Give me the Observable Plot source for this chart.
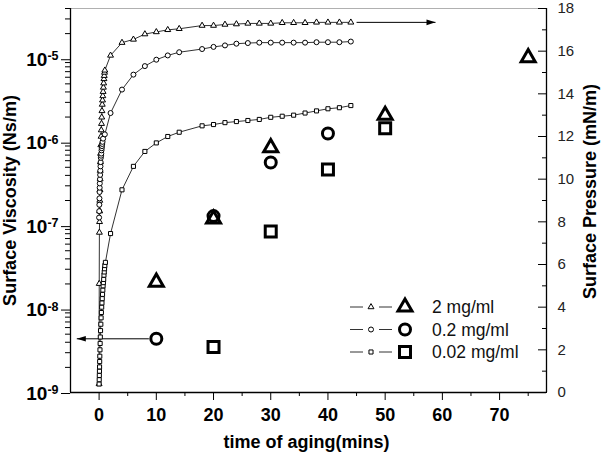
<!DOCTYPE html>
<html><head><meta charset="utf-8">
<script src="https://cdn.jsdelivr.net/npm/d3@7"></script>
<script src="https://cdn.jsdelivr.net/npm/@observablehq/plot@0.6"></script>
<style>
body{margin:0;background:#fff;font-family:"Liberation Sans",Arial,sans-serif;}
#chart{position:relative;width:601px;height:460px;background:#fff;}
#chart svg{position:absolute;left:0;top:0;}
</style></head><body><div id="chart"></div>
<script>
// ---------- data ----------
const concentrations = ["2 mg/ml", "0.2 mg/ml", "0.02 mg/ml"];
const symbolNames = ["triangle", "circle", "square"];

// surface viscosity (left, log axis), large markers
const viscTime2 = [10, 20, 30, 50, 75];
const visc2 = [2.1e-8, 1.2e-7, 8.6e-7, 2.1e-6, 1.03e-5];
const viscTime02 = [10, 20, 30, 40];
const visc02 = [4.4e-9, 1.3e-7, 5.7e-7, 1.27e-6];
const viscTime002 = [20, 30, 40, 50];
const visc002 = [3.5e-9, 8.5e-8, 4.7e-7, 1.47e-6];

// surface pressure (right axis), small markers + lines
const presTime2 = [0,0.02,0.05,0.08,0.1,0.12,0.15,0.18,0.2,0.23,0.26,0.3,0.34,0.38,0.42,0.46,0.5,0.55,0.6,0.65,0.7,0.75,0.8,0.85,0.9,0.95,1.0,
  2,4,6,8,10,12,14,18,20,22,24,26,28,30,32,34,36,38,40,42,44];
const pres2 = [0.4,5.1,7.5,8.0,8.5,9.0,9.5,10.0,10.4,10.8,11.2,11.6,12.0,12.3,12.6,12.9,13.2,13.5,13.7,13.9,14.1,14.3,14.5,14.7,14.85,15.0,15.1,
  15.8,16.4,16.55,16.8,16.9,17.0,17.05,17.2,17.2,17.25,17.27,17.3,17.3,17.3,17.33,17.33,17.33,17.35,17.35,17.35,17.35];
const presTime02 = [0,0.02,0.04,0.06,0.08,0.1,0.12,0.15,0.18,0.21,0.24,0.27,0.3,0.34,0.38,0.42,0.46,0.5,0.55,0.6,0.7,1.0,
  2,4,6,8,10,12,14,18,20,22,24,26,28,30,32,34,36,38,40,42,44];
const pres02 = [8.2,8.5,8.8,9.1,9.4,9.6,9.8,10.0,10.2,10.4,10.6,10.8,11.0,11.1,11.2,11.35,11.45,11.55,11.65,11.75,11.9,12.1,
  13.1,14.2,14.9,15.3,15.6,15.8,15.95,16.1,16.2,16.27,16.35,16.38,16.4,16.4,16.4,16.4,16.4,16.42,16.42,16.42,16.45];
const presTime002 = [0,0.02,0.04,0.06,0.08,0.1,0.12,0.15,0.18,0.21,0.25,0.3,0.35,0.4,0.45,0.5,0.55,0.6,0.65,0.7,0.75,0.8,0.85,0.9,0.95,1.0,1.1,
  2,4,6,8,10,12,14,18,20,22,24,26,28,30,32,34,36,38,40,42,44];
const pres002 = [0.4,0.6,0.8,1.0,1.2,1.45,1.7,2.0,2.3,2.6,2.9,3.2,3.5,3.75,4.0,4.2,4.4,4.6,4.8,5.0,5.15,5.3,5.5,5.65,5.8,5.95,6.1,
  7.45,9.5,10.6,11.3,11.7,12.0,12.2,12.5,12.56,12.65,12.7,12.75,12.8,12.9,12.95,13.0,13.1,13.2,13.3,13.35,13.45];

// axes
const xDomain = [-5, 78.2];
const xMajorTicks = [0, 10, 20, 30, 40, 50, 60, 70];
const xMinorTicks = [5, 15, 25, 35, 45, 55, 65, 75];
const viscDomain = [1e-9, 4e-5];
const viscMajorTicks = [1e-9, 1e-8, 1e-7, 1e-6, 1e-5];
const viscMinorTicks = [-9, -8, -7, -6, -5].flatMap(e => [2,3,4,5,6,7,8,9].map(m => +(m + "e" + e))).filter(v => v <= viscDomain[1]);
const presDomain = [0, 18];
const presMajorTicks = [0, 2, 4, 6, 8, 10, 12, 14, 16, 18];
const presMinorTicks = [1, 3, 5, 7, 9, 11, 13, 15, 17];
const xTitle = "time of aging(mins)";
const yLeftTitle = "Surface Viscosity (Ns/m)";
const yRightTitle = "Surface Pressure (mN/m)";

// annotation arrows
const presArrow = [{x1: 45, x2: 58.8, y: 17.35}];
const viscArrow = [{x1: 8.7, x2: -3.9, y: 4.4e-9}];

// ---------- build ----------
const zipRows = (ts, vs, c) => ts.slice(0, Math.min(ts.length, vs.length)).map((t, i) => ({t, v: vs[i], c}));
const viscRows = [zipRows(viscTime2, visc2, 0), zipRows(viscTime02, visc02, 1), zipRows(viscTime002, visc002, 2)];
const presRows = [zipRows(presTime2, pres2, 0), zipRows(presTime02, pres02, 1), zipRows(presTime002, pres002, 2)];

const W = 601, H = 460, mL = 70, mR = 55, mT = 8, mB = 68;
const FONT = "'Liberation Sans', Arial, sans-serif";
const bigR = [5.2, 5.5, 6.2];
const smallR = [2.2, 2.5, 2.3];

const headRight = {draw(ctx) { ctx.moveTo(0, 0); ctx.lineTo(-9, -2.8); ctx.lineTo(-9, 2.8); ctx.closePath(); }};
const headLeft = {draw(ctx) { ctx.moveTo(0, 0); ctx.lineTo(9, -2.8); ctx.lineTo(9, 2.8); ctx.closePath(); }};

const common = {width: W, height: H, marginLeft: mL, marginRight: mR, marginTop: mT, marginBottom: mB,
  style: {background: "transparent", fontFamily: FONT, color: "#000", overflow: "visible"}};

const plotA = Plot.plot({
  ...common,
  x: {domain: xDomain},
  y: {type: "log", domain: viscDomain},
  marks: [
    Plot.frame({stroke: "#b0b0b0"}),
    Plot.ruleX([xDomain[0]], {stroke: "#000", strokeWidth: 1.3}),
    Plot.ruleX([xDomain[1]], {stroke: "#000", strokeWidth: 1.3}),
    Plot.ruleY([viscDomain[0]], {stroke: "#000", strokeWidth: 1.3}),
    Plot.axisY({ticks: viscMinorTicks, anchor: "left", tickSize: 5, tickFormat: () => "", label: null}),
    Plot.axisY({ticks: viscMajorTicks, anchor: "left", tickSize: 9, tickPadding: 3, fontSize: 19, fontWeight: "bold",
      tickFormat: d => "10^" + Math.round(Math.log10(d)), label: null, dy: 1}),
    Plot.axisX({ticks: xMinorTicks, anchor: "bottom", tickSize: 4, tickFormat: () => "", label: null}),
    Plot.axisX({ticks: xMajorTicks, anchor: "bottom", tickSize: 8, tickPadding: 8, fontSize: 18, fontWeight: "bold", label: null}),
    Plot.text([yLeftTitle], {text: d => d, frameAnchor: "left", textAnchor: "middle", lineAnchor: "middle",
      rotate: -90, dx: -60, fontSize: 18, fontWeight: "bold"}),
    Plot.text([xTitle], {text: d => d, frameAnchor: "bottom", textAnchor: "middle", lineAnchor: "middle",
      dx: -2, dy: 50, fontSize: 18, fontWeight: "bold"}),
    ...viscRows.map((rows, i) => Plot.dot(rows, {x: "t", y: "v", symbol: symbolNames[i], r: bigR[i],
      stroke: "#000", strokeWidth: 3, fill: "none"})),
    Plot.link(viscArrow, {x1: "x1", x2: "x2", y1: "y", y2: "y", stroke: "#000", strokeWidth: 1}),
    Plot.dot(viscArrow, {x: "x2", y: "y", symbol: headLeft, fill: "#000", stroke: "none"})
  ]
});

const plotB = Plot.plot({
  ...common,
  x: {domain: xDomain, axis: null},
  y: {domain: presDomain},
  marks: [
    Plot.axisY({ticks: presMinorTicks, anchor: "right", tickSize: -5, tickFormat: () => "", label: null}),
    Plot.axisY({ticks: presMajorTicks, anchor: "right", tickSize: -9, tickPadding: 20, fontSize: 15, fill: "#222", label: null}),
    Plot.text([yRightTitle], {text: d => d, frameAnchor: "right", textAnchor: "middle", lineAnchor: "middle",
      rotate: -90, dx: 44, dy: -9, fontSize: 18, fontWeight: "bold"}),
    ...presRows.map(rows => Plot.line(rows, {x: "t", y: "v", stroke: "#333", strokeWidth: 1})),
    ...presRows.map((rows, i) => Plot.dot(rows, {x: "t", y: "v", symbol: symbolNames[i], r: smallR[i],
      stroke: "#000", strokeWidth: 1, fill: "#fff"})),
    Plot.link(presArrow, {x1: "x1", x2: "x2", y1: "y", y2: "y", stroke: "#000", strokeWidth: 1}),
    Plot.dot(presArrow, {x: "x2", y: "y", symbol: headRight, fill: "#000", stroke: "none"})
  ]
});

// superscript exponents on the log axis labels
d3.select(plotA).selectAll("text").each(function() {
  const m = this.textContent.match(/^10\^(-?\d+)$/);
  if (m) {
    const t = d3.select(this);
    t.text("");
    t.append("tspan").text("10");
    t.append("tspan").attr("dy", "-0.45em").attr("font-size", "12.5px").text(m[1]);
  }
});

const chart = document.getElementById("chart");
chart.appendChild(plotA);
chart.appendChild(plotB);

// legend
const d3Symbols = [d3.symbolTriangle, d3.symbolCircle, d3.symbolSquare];
const legend = d3.select(chart).append("svg").attr("width", W).attr("height", H)
  .style("font-family", FONT);
const legendTop = 307, legendStep = 22.5;
concentrations.forEach((label, i) => {
  const g = legend.append("g").attr("transform", `translate(0,${legendTop + i * legendStep})`);
  g.append("line").attr("x1", 350).attr("x2", 363).attr("stroke", "#333").attr("stroke-width", 1);
  g.append("line").attr("x1", 379).attr("x2", 392).attr("stroke", "#333").attr("stroke-width", 1);
  g.append("path").attr("transform", "translate(371,0)")
    .attr("d", d3.symbol(d3Symbols[i], Math.PI * smallR[i] * smallR[i])())
    .attr("fill", "#fff").attr("stroke", "#000").attr("stroke-width", 1);
  g.append("path").attr("transform", "translate(405,0)")
    .attr("d", d3.symbol(d3Symbols[i], Math.PI * bigR[i] * bigR[i])())
    .attr("fill", "none").attr("stroke", "#000").attr("stroke-width", 3);
  g.append("text").attr("x", 432).attr("dy", "0.35em").attr("font-size", "17.5px").attr("fill", "#111").text(label);
});
</script></body></html>
